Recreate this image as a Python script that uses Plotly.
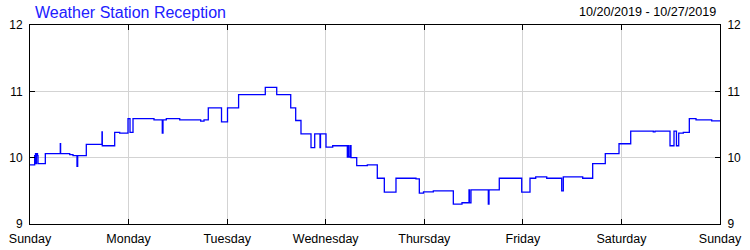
import pandas as pd
import plotly.graph_objects as go

title_text = "Weather Station Reception"
date_range_text = "10/20/2019 - 10/27/2019"
start_date = "2019-10-20"
end_date = "2019-10-27"

# hours since Sunday 00:00 and reception value (step data)
hours = [0.0, 1.14, 1.34, 1.46, 1.58, 1.83, 1.95, 3.73, 7.38, 7.45, 9.67, 10.47, 11.44, 11.61,
         13.71, 17.53, 17.6, 20.62, 21.84, 23.86, 24.35, 25.08, 30.19, 32.21, 32.38, 33.19,
         36.45, 41.56, 42.37, 43.41, 46.63, 48.09, 50.79, 57.29, 60.07, 63.48, 64.69, 65.98,
         68.42, 69.32, 70.61, 70.73, 72.07, 73.70, 77.26, 77.55, 77.67, 78.04, 78.16, 79.55,
         82.13, 84.56, 86.27, 89.11, 93.98, 94.79, 95.81, 98.2, 103.07, 105.18, 106.89, 107.0,
         107.37, 111.59, 111.76, 114.26, 119.72, 121.74, 123.13, 125.81, 129.46, 129.85,
         134.57, 137.0, 140.07, 143.41, 146.26, 151.76, 152.18, 155.83, 156.8, 157.4, 157.95,
         159.07, 160.53, 162.16, 165.98, 168.0]
values = [9.89, 10.03, 10.06, 9.91, 10.06, 10.03, 9.91, 10.06, 10.21, 10.06, 10.045, 10.03, 9.87, 10.03,
          10.2, 10.39, 10.18, 10.38, 10.37, 10.59, 10.38, 10.59, 10.57, 10.37, 10.57, 10.59,
          10.57, 10.55, 10.57, 10.75, 10.54, 10.75, 10.95, 11.06, 10.95, 10.75, 10.56, 10.36,
          10.15, 10.36, 10.15, 10.36, 10.16, 10.18, 10.01, 10.18, 10.01, 10.18, 10.0, 9.88,
          9.89, 9.69, 9.48, 9.69, 9.68, 9.465, 9.485, 9.50, 9.30, 9.32, 9.515, 9.32,
          9.515, 9.30, 9.515, 9.69, 9.48, 9.69, 9.71, 9.69, 9.50, 9.71,
          9.69, 9.91, 10.06, 10.21, 10.40, 10.39, 10.40, 10.18, 10.40, 10.18, 10.37,
          10.38, 10.59, 10.57, 10.555, 10.555]

y_ticks = [9, 10, 11, 12]

t0 = pd.Timestamp(start_date)
times = [t0 + pd.Timedelta(hours=h) for h in hours]

font_family = "Liberation Sans, Arial, sans-serif"
grid = "#d3d3d3"

fig = go.Figure()
fig.add_trace(go.Scatter(x=times, y=values, mode="lines", line=dict(color="#0000ff", width=1.3, shape="hv"),
                         showlegend=False, hoverinfo="skip"))
fig.add_trace(go.Scatter(x=[times[0]], y=[values[0]], yaxis="y2", mode="markers",
                         marker=dict(opacity=0), showlegend=False, hoverinfo="skip"))

axis_common = dict(showline=True, linecolor="black", linewidth=1, ticks="inside", ticklen=5,
                   tickcolor="black", showgrid=True, gridcolor=grid, gridwidth=1, zeroline=False,
                   automargin=False)

fig.update_layout(
    width=750, height=250,
    margin=dict(l=30, r=30, t=25, b=26, autoexpand=False),
    paper_bgcolor="white", plot_bgcolor="white",
    font=dict(family=font_family, size=12, color="black"),
    xaxis=dict(type="date", range=[start_date, end_date], tick0=start_date, dtick=86400000,
               tickformat="%A", mirror="ticks", tickfont=dict(size=12.5), ticklabelstandoff=3,
               **axis_common),
    yaxis=dict(range=[9, 12], tickvals=y_ticks, mirror=True, ticklabelstandoff=4, **axis_common),
    yaxis2=dict(range=[9, 12], tickvals=y_ticks, overlaying="y", side="right", showline=True,
                linecolor="black", ticks="inside", ticklen=5, tickcolor="black", showgrid=False,
                zeroline=False, ticklabelstandoff=4, automargin=False),
    annotations=[
        dict(text=title_text, xref="paper", yref="paper", x=3 / 690, y=1.063, xanchor="left",
             yanchor="middle", showarrow=False, font=dict(size=16, color="#2020ff", family=font_family)),
        dict(text=date_range_text, xref="paper", yref="paper", x=688 / 690, y=1.063, xanchor="right",
             yanchor="middle", showarrow=False, font=dict(size=12.6, color="black", family=font_family)),
    ],
)

fig.write_html("out.html")
